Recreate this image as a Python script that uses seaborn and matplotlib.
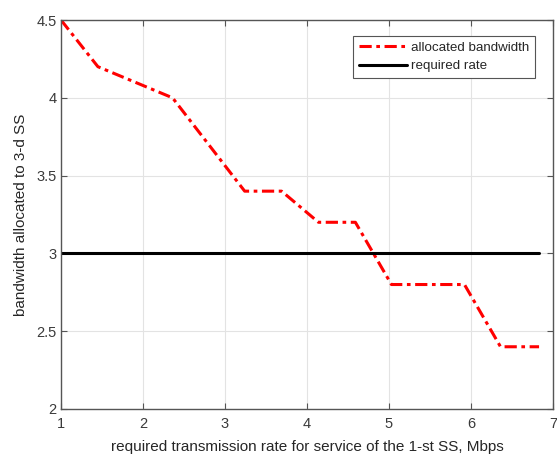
import matplotlib
matplotlib.use("Agg")
import matplotlib.pyplot as plt
import seaborn as sns
import pandas as pd

x_alloc = [1.0, 1.45, 2.36, 3.24, 3.69, 4.14, 4.59, 5.03, 5.92, 6.36, 6.83]
y_alloc = [4.5, 4.2, 4.0, 3.4, 3.4, 3.2, 3.2, 2.8, 2.8, 2.4, 2.4]
x_req = [1.0, 6.83]
y_req = [3.0, 3.0]
xticks = [1, 2, 3, 4, 5, 6, 7]
yticks = [2, 2.5, 3, 3.5, 4, 4.5]
ytick_labels = ["2", "2.5", "3", "3.5", "4", "4.5"]

sns.set_style("white")
plt.rcParams['font.family'] = ['Liberation Sans', 'DejaVu Sans']

fig = plt.figure(figsize=(5.57, 4.55), dpi=100)
ax = fig.add_axes([61/557, 1 - 409/455, (553-61)/557, (409-20)/455])

df_a = pd.DataFrame({"x": x_alloc, "y": y_alloc})
df_r = pd.DataFrame({"x": x_req, "y": y_req})
sns.lineplot(data=df_a, x="x", y="y", ax=ax, color="red", lw=2.2,
             linestyle=(0, (4, 1.5, 1.2, 1.5)), label="allocated bandwidth", sort=False)
sns.lineplot(data=df_r, x="x", y="y", ax=ax, color="black", lw=2.2,
             label="required rate", sort=False)

ax.set_xlim(1, 7)
ax.set_ylim(2, 4.5)
ax.set_xticks(xticks)
ax.set_yticks(yticks)
ax.set_yticklabels(ytick_labels)
ax.grid(True, color="#e3e3e3", lw=0.8)
ax.set_axisbelow(True)
for s in ax.spines.values():
    s.set_color("#555555")
    s.set_linewidth(1.0)
ax.tick_params(direction="in", length=4, color="#555555", labelcolor="#3a3a3a",
               labelsize=10.5, top=True, right=True, bottom=True, left=True)
ax.tick_params(axis="x", pad=6)
ax.tick_params(axis="y", pad=3)
ax.set_xlabel("required transmission rate for service of the 1-st SS, Mbps", fontsize=11, color="#262626", labelpad=6)
ax.set_ylabel("bandwidth allocated to 3-d SS", fontsize=11, color="#262626", labelpad=6)

leg = ax.legend(loc="upper right", bbox_to_anchor=(0.963, 0.96), fontsize=9.6,
                frameon=True, fancybox=False, edgecolor="#555555", framealpha=1,
                handlelength=3.6, handletextpad=0.25, borderpad=0.45, labelspacing=0.45,
                borderaxespad=0)
leg.get_frame().set_linewidth(0.8)

fig.savefig("out.png", dpi=100)
